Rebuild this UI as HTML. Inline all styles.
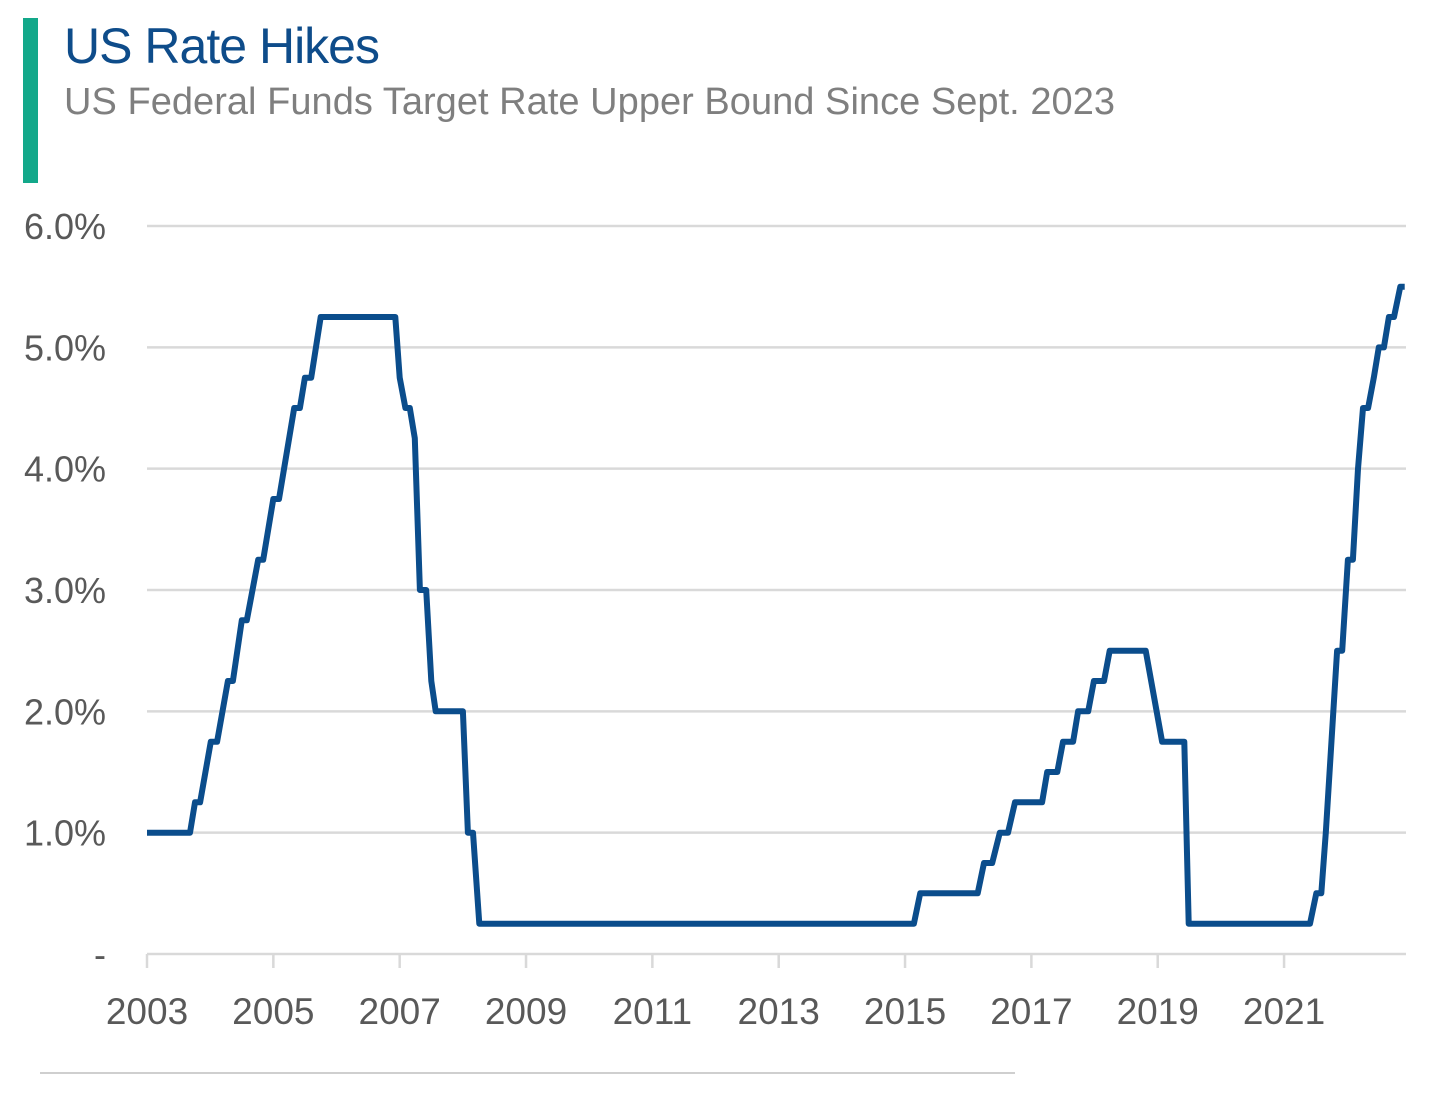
<!DOCTYPE html>
<html><head><meta charset="utf-8"><style>
body{margin:0;background:#fff;width:1456px;height:1100px;overflow:hidden;font-family:"Liberation Sans",sans-serif}
svg{position:absolute;left:0;top:0}
</style></head><body>
<svg id="chart" width="1456" height="1100">
<rect x="23" y="18" width="15" height="165" fill="#13a88a"/>
<text x="64" y="63" font-size="50" fill="#0e4c8a" textLength="316">US Rate Hikes</text>
<text x="64" y="114" font-size="38" fill="#7f7f7f" textLength="1051">US Federal Funds Target Rate Upper Bound Since Sept. 2023</text>
<g id="grid"></g><g id="xaxis"></g>
<path id="series" fill="none" stroke="#0b4d8c" stroke-width="6" stroke-linejoin="round"/>
<line x1="40" y1="1073" x2="1015" y2="1073" stroke="#cfcfcf" stroke-width="2"/>
</svg>
<script>
const years=[2003.0,2003.68,2003.76,2003.84,2004.01,2004.11,2004.28,2004.36,2004.5,2004.58,2004.76,2004.84,2005.0,2005.09,2005.33,2005.42,2005.5,2005.6,2005.75,2006.93,2007.0,2007.09,2007.16,2007.24,2007.32,2007.42,2007.5,2007.57,2008.0,2008.08,2008.16,2008.26,2015.14,2015.24,2016.15,2016.25,2016.38,2016.5,2016.63,2016.74,2017.17,2017.25,2017.41,2017.5,2017.66,2017.74,2017.9,2017.99,2018.15,2018.24,2018.81,2019.07,2019.42,2019.49,2021.41,2021.51,2021.59,2021.66,2021.84,2021.92,2022.01,2022.09,2022.17,2022.25,2022.33,2022.42,2022.5,2022.58,2022.66,2022.74,2022.84,2022.91];
const rates=[1,1,1.25,1.25,1.75,1.75,2.25,2.25,2.75,2.75,3.25,3.25,3.75,3.75,4.5,4.5,4.75,4.75,5.25,5.25,4.75,4.5,4.5,4.25,3,3,2.25,2,2,1,1,0.25,0.25,0.5,0.5,0.75,0.75,1,1,1.25,1.25,1.5,1.5,1.75,1.75,2,2,2.25,2.25,2.5,2.5,1.75,1.75,0.25,0.25,0.5,0.5,1,2.5,2.5,3.25,3.25,4,4.5,4.5,4.75,5,5,5.25,5.25,5.5,5.5];
const yTicks=[0,1,2,3,4,5,6];
const yTickLabels=["-","1.0%","2.0%","3.0%","4.0%","5.0%","6.0%"];
const xTicks=[2003,2005,2007,2009,2011,2013,2015,2017,2019,2021];
const X=y=>147+(y-2003)*63.17;
const Y=v=>954-v*121.33;
const NS="http://www.w3.org/2000/svg";
const grid=document.getElementById('grid'),xa=document.getElementById('xaxis');
function mk(tag,attrs,parent){const e=document.createElementNS(NS,tag);for(const k in attrs)e.setAttribute(k,attrs[k]);parent.appendChild(e);return e;}
yTicks.forEach((v,i)=>{
  if(v>0){const l=mk('line',{x1:147,x2:1406,y1:Y(v),y2:Y(v),stroke:'#d9d9d9','stroke-width':2.5},grid);
  
  }
  const t=mk('text',{x:106,y:Y(v)+13,'text-anchor':'end','font-size':36,fill:'#595959'},grid);
  t.textContent=yTickLabels[i];
  
  
});
const ax=mk('line',{x1:147,x2:1406,y1:954,y2:954,stroke:'#d9d9d9','stroke-width':2.5},xa);


xTicks.forEach(yr=>{
  const tk=mk('line',{x1:X(yr),x2:X(yr),y1:954,y2:968,stroke:'#d9d9d9','stroke-width':2.5},xa);
  
  
  const t=mk('text',{x:X(yr),y:1024,'text-anchor':'middle','font-size':37,fill:'#595959'},xa);
  t.textContent=yr;
  
  
});
document.getElementById('series').setAttribute('d',years.map((y,i)=>(i?'L':'M')+X(y).toFixed(1)+' '+Y(rates[i]).toFixed(1)).join(' '));
</script>
</body></html>
